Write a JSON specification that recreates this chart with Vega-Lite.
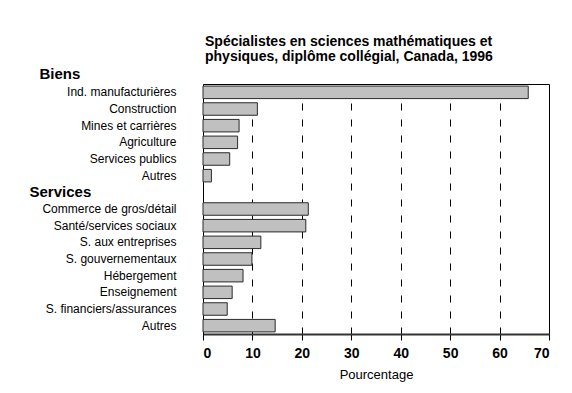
{
  "$schema": "https://vega.github.io/schema/vega-lite/v6.json",
  "autosize": {"type": "none"},
  "width": 346,
  "height": 250,
  "padding": {"left": 203, "top": 84, "right": 23, "bottom": 59},
  "background": "white",
  "config": {
    "font": "Liberation Sans",
    "view": {"stroke": "#000", "strokeWidth": 1}
  },
  "title": {
    "text": ["Spécialistes en sciences mathématiques et", "physiques, diplôme collégial, Canada, 1996"],
    "anchor": "start",
    "frame": "group",
    "dx": 2,
    "offset": 2,
    "fontSize": 14,
    "fontWeight": "bold",
    "font": "Liberation Sans",
    "color": "#000",
    "lineHeight": 15
  },
  "data": {
    "values": [
      {"key": "b1|Ind. manufacturières", "value": 65.8},
      {"key": "b2|Construction", "value": 11.0},
      {"key": "b3|Mines et carrières", "value": 7.3},
      {"key": "b4|Agriculture", "value": 7.0},
      {"key": "b5|Services publics", "value": 5.4},
      {"key": "b6|Autres", "value": 1.7},
      {"key": "s0|Services", "value": null},
      {"key": "s1|Commerce de gros/détail", "value": 21.3},
      {"key": "s2|Santé/services sociaux", "value": 20.8},
      {"key": "s3|S. aux entreprises", "value": 11.7},
      {"key": "s4|S. gouvernementaux", "value": 9.9},
      {"key": "s5|Hébergement", "value": 8.1},
      {"key": "s6|Enseignement", "value": 5.9},
      {"key": "s7|S. financiers/assurances", "value": 4.9},
      {"key": "s8|Autres", "value": 14.6}
    ]
  },
  "mark": {"type": "bar", "fill": "#c0c0c0", "stroke": "#2a2a2a", "strokeWidth": 1},
  "encoding": {
    "y": {
      "field": "key",
      "type": "nominal",
      "sort": null,
      "scale": {
        "domain": ["b1|Ind. manufacturières", "b2|Construction", "b3|Mines et carrières", "b4|Agriculture", "b5|Services publics", "b6|Autres", "s0|Services", "s1|Commerce de gros/détail", "s2|Santé/services sociaux", "s3|S. aux entreprises", "s4|S. gouvernementaux", "s5|Hébergement", "s6|Enseignement", "s7|S. financiers/assurances", "s8|Autres"],
        "paddingInner": 0.25,
        "paddingOuter": 0.125
      },
      "axis": {
        "title": "Biens",
        "titleAngle": 0,
        "titleAlign": "left",
        "titleBaseline": "alphabetic",
        "titleX": -164,
        "titleY": -6,
        "titleFontSize": 15,
        "titleFontWeight": "bold",
        "titleColor": "#000",
        "titleFont": "Liberation Sans",
        "labelExpr": "split(datum.label, '|')[1]",
        "ticks": false,
        "tickSize": 0,
        "domain": true,
        "domainColor": "#000",
        "domainWidth": 1,
        "labelFont": "Liberation Sans",
        "labelColor": "#000",
        "labelFontSize": {"expr": "datum.value == 's0|Services' ? 15 : 12"},
        "labelFontWeight": {"expr": "datum.value == 's0|Services' ? 'bold' : 'normal'"},
        "labelAlign": {"expr": "datum.value == 's0|Services' ? 'left' : 'right'"},
        "labelPadding": {"expr": "datum.value == 's0|Services' ? 174 : 27"},
        "labelLimit": 300
      }
    },
    "x": {
      "field": "value",
      "type": "quantitative",
      "scale": {"domain": [0, 70], "nice": false},
      "axis": {
        "title": "Pourcentage",
        "values": [0, 10, 20, 30, 40, 50, 60, 70],
        "grid": true,
        "gridColor": "#000",
        "gridDash": [7, 9],
        "gridWidth": 1,
        "gridOpacity": 1,
        "domainColor": "#333",
        "domainWidth": 2,
        "tickColor": "#000",
        "tickSize": 6,
        "tickWidth": 1,
        "labelFontSize": 14,
        "labelFontWeight": "bold",
        "labelColor": "#000",
        "labelPadding": 6,
        "labelFont": "Liberation Sans",
        "titleFontSize": 13,
        "titleFontWeight": "normal",
        "titleColor": "#000",
        "titleFont": "Liberation Sans",
        "titlePadding": 8
      }
    }
  }
}
